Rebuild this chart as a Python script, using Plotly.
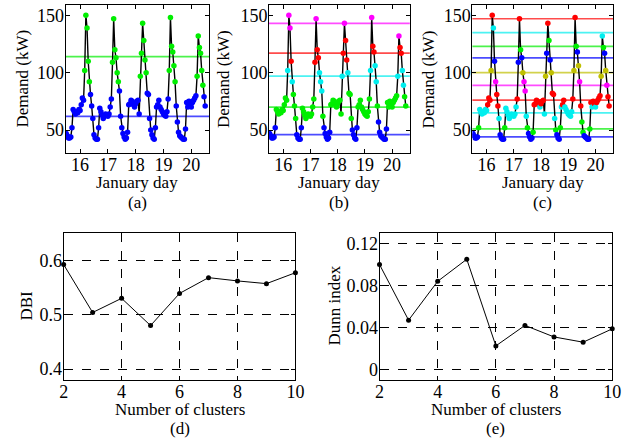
import plotly.graph_objects as go

# ---------------- data ----------------
start_day = 15.5          # 15 January, 12:00
step_day = 1.0 / 24.0     # hourly samples

demand_jan15 = [47, 45, 43, 43, 44, 52, 68, 66, 64, 66, 65, 68]
demand_jan16 = [67, 72, 78, 76, 102, 150, 139, 110, 92, 81, 71, 60, 46, 43, 42, 42, 52, 69, 66, 63, 60, 62, 64, 63]
demand_jan17 = [62, 64, 70, 77, 109, 147, 120, 113, 100, 92, 84, 62, 52, 47, 44, 42, 43, 48, 72, 73, 76, 75, 72, 70]
demand_jan18 = [73, 75, 76, 64, 97, 117, 143, 128, 111, 100, 82, 81, 60, 50, 46, 43, 42, 52, 70, 72, 76, 70, 68, 66]
demand_jan19 = [64, 63, 62, 66, 77, 102, 148, 123, 118, 106, 92, 71, 57, 48, 45, 44, 43, 42, 42, 51, 74, 70, 75, 73]
demand_jan20 = [70, 74, 76, 78, 80, 97, 132, 122, 117, 102, 89, 79, 71]
demand = demand_jan15 + demand_jan16 + demand_jan17 + demand_jan18 + demand_jan19 + demand_jan20
time_day = [start_day + i * step_day for i in range(len(demand))]

BLUE, GREEN, CYAN, RED, MAGENTA, OLIVE = "#0000ff", "#00ee00", "#00eeee", "#ff0000", "#ff00ff", "#bfbf00"

centroids_k2 = [62, 114]
colors_k2 = [BLUE, GREEN]
centroids_k5 = [46, 70, 97, 117, 143]
colors_k5 = [BLUE, GREEN, CYAN, RED, MAGENTA]
centroids_k10 = [44, 51, 65, 76, 89, 100, 113, 123, 135, 147]
colors_k10 = [BLUE, GREEN, CYAN, RED, MAGENTA, OLIVE, BLUE, GREEN, CYAN, RED]

day_ticks = [16, 17, 18, 19, 20]
demand_ticks = [50, 100, 150]

n_clusters = [2, 3, 4, 5, 6, 7, 8, 9, 10]
dbi = [0.592, 0.504, 0.530, 0.480, 0.539, 0.568, 0.562, 0.557, 0.577]
dunn = [0.100, 0.047, 0.084, 0.105, 0.0225, 0.042, 0.031, 0.026, 0.0387]
cluster_ticks = [2, 4, 6, 8, 10]
dbi_ticks = [0.4, 0.5, 0.6]
dunn_ticks = [0, 0.04, 0.08, 0.12]
dunn_ticklabels = ["0", "0.04", "0.08", "0.12"]

# ---------------- layout helpers ----------------
W, H = 631, 443
FONT = "Liberation Serif"
FS = 18      # tick labels
FT = 17      # titles / panel labels


def fx(px):
    return px / W


def fy(py):
    return 1 - py / H


top_panels = [
    dict(x0=62, x1=209, cents=centroids_k2, cols=colors_k2, label="(a)", ytitle_x=17),
    dict(x0=270, x1=414, cents=centroids_k5, cols=colors_k5, label="(b)", ytitle_x=223),
    dict(x0=478, x1=622, cents=centroids_k10, cols=colors_k10, label="(c)", ytitle_x=433),
]
top_y0, top_y1 = 5, 153

fig = go.Figure()
shapes = []
annotations = []
axis_common = dict(
    showline=True, linecolor="black", linewidth=1, mirror="ticks",
    ticks="inside", ticklen=4, tickcolor="black", zeroline=False,
    tickfont=dict(family=FONT, size=FS, color="black"),
)
xstand = -5
ystand = -3
layout_axes = {}


def text_ann(text, px, py, angle=0):
    return dict(text=text, x=fx(px), y=fy(py), xref="paper", yref="paper",
                showarrow=False, textangle=angle, borderpad=0,
                font=dict(family=FONT, size=FT, color="black"),
                xanchor="center", yanchor="middle")


for i, p in enumerate(top_panels):
    n = i + 1
    xa = "x" if n == 1 else f"x{n}"
    ya = "y" if n == 1 else f"y{n}"
    xkey = "xaxis" if n == 1 else f"xaxis{n}"
    ykey = "yaxis" if n == 1 else f"yaxis{n}"
    layout_axes[xkey] = dict(axis_common, domain=[fx(p["x0"]), fx(p["x1"])], anchor=ya,
                             range=[15.48, 20.65], tickvals=day_ticks, showgrid=False,
                             ticklabelstandoff=xstand)
    layout_axes[ykey] = dict(axis_common, domain=[fy(top_y1), fy(top_y0)], anchor=xa,
                             range=[30, 159], tickvals=demand_ticks, showgrid=False,
                             ticklabelstandoff=ystand)
    # nearest-centroid assignment for colouring
    cents = p["cents"]
    mcols = []
    for v in demand:
        k = min(range(len(cents)), key=lambda j: abs(v - cents[j]))
        mcols.append(p["cols"][k])
    for c, col in zip(cents, p["cols"]):
        shapes.append(dict(type="line", xref=f"{xa} domain", yref=ya, x0=0, x1=1, y0=c, y1=c,
                           line=dict(color=col, width=1.7), opacity=0.7, layer="below"))
    fig.add_trace(go.Scatter(x=time_day, y=demand, mode="lines", line=dict(color="black", width=1.4),
                             xaxis=xa, yaxis=ya, showlegend=False, hoverinfo="skip"))
    fig.add_trace(go.Scatter(x=time_day, y=demand, mode="markers",
                             marker=dict(color=mcols, size=5.5, line=dict(width=0)),
                             xaxis=xa, yaxis=ya, showlegend=False))
    cx = (p["x0"] + p["x1"]) / 2
    annotations.append(text_ann("January day", cx, 182))
    annotations.append(text_ann(p["label"], cx, 202))
    annotations.append(text_ann("Demand (kW)", p["ytitle_x"], 79, -90))

bottom_panels = [
    dict(x0=60, x1=297, vals=dbi, yr=[0.38, 0.65], tv=dbi_ticks, tt=["0.4", "0.5", "0.6"],
         ytitle="DBI", ytitle_x=21, label="(d)"),
    dict(x0=383, x1=621, vals=dunn, yr=[-0.01, 0.13], tv=dunn_ticks, tt=dunn_ticklabels,
         ytitle="Dunn index", ytitle_x=336, label="(e)"),
]
bot_y0, bot_y1 = 233, 380
grid = dict(showgrid=True, gridcolor="black", gridwidth=1, griddash="dash")

for i, p in enumerate(bottom_panels):
    n = i + 4
    xa, ya = f"x{n}", f"y{n}"
    layout_axes[f"xaxis{n}"] = dict(axis_common, **grid, domain=[fx(p["x0"]), fx(p["x1"])], anchor=ya,
                                    range=[2, 10], tickvals=cluster_ticks, ticklabelstandoff=xstand)
    layout_axes[f"yaxis{n}"] = dict(axis_common, **grid, domain=[fy(bot_y1), fy(bot_y0)], anchor=xa,
                                    range=p["yr"], tickvals=p["tv"], ticktext=p["tt"],
                                    ticklabelstandoff=ystand)
    fig.add_trace(go.Scatter(x=n_clusters, y=p["vals"], mode="lines+markers",
                             line=dict(color="black", width=1),
                             marker=dict(color="black", size=5),
                             xaxis=xa, yaxis=ya, showlegend=False, cliponaxis=False))
    cx = (p["x0"] + p["x1"]) / 2
    annotations.append(text_ann("Number of clusters", cx, 409))
    annotations.append(text_ann(p["label"], cx, 428))
    annotations.append(text_ann(p["ytitle"], p["ytitle_x"], 306, -90))

fig.update_layout(
    width=W, height=H,
    margin=dict(l=0, r=0, t=0, b=0),
    paper_bgcolor="white", plot_bgcolor="white",
    font=dict(family=FONT, size=FS, color="black"),
    shapes=shapes, annotations=annotations, showlegend=False,
    **layout_axes,
)

fig.write_html("out.html", config={"displayModeBar": False},
               post_script="document.body.style.margin='0';document.body.style.overflow='hidden';")
